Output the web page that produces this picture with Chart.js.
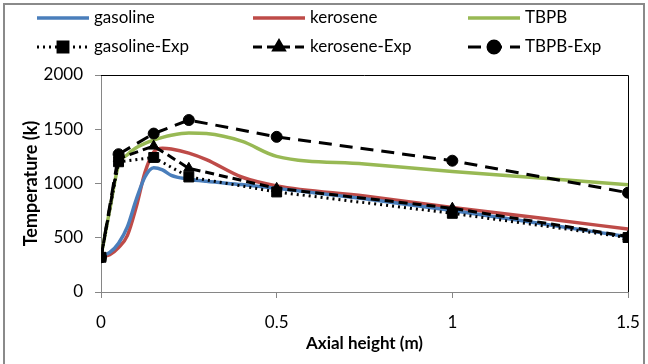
<!DOCTYPE html>
<html>
<head>
<meta charset="utf-8">
<script src="https://cdn.jsdelivr.net/npm/chart.js@4/dist/chart.umd.min.js"></script>
<style>
  html, body { margin: 0; padding: 0; background: #fff; }
  #wrap { position: relative; width: 648px; height: 364px; }
</style>
</head>
<body>
<div id="wrap"><canvas id="c" width="648" height="364"></canvas></div>
<script>
// Simulated axial temperature profiles (K) along the common axial grid (m)
const simHeight = [0, 0.025, 0.05, 0.075, 0.1, 0.125, 0.15, 0.175, 0.2, 0.25, 0.3, 0.4, 0.5, 0.75, 1.0, 1.25, 1.5];
const gasolineSim = [330, 365, 450, 600, 850, 1060, 1145, 1125, 1075, 1040, 1020, 990, 955, 860, 752, 632, 508];
const keroseneSim = [330, 345, 410, 520, 780, 1100, 1290, 1325, 1318, 1280, 1220, 1060, 978, 885, 780, 682, 580];
const tbpbSim     = [330, 760, 1170, 1265, 1330, 1370, 1400, 1425, 1445, 1465, 1460, 1390, 1250, 1180, 1110, 1050, 988];

// Measured temperatures (K) at the thermocouple heights (m)
const expHeight   = [0, 0.05, 0.15, 0.25, 0.5, 1.0, 1.5];
const gasolineExp = [320, 1200, 1240, 1060, 922, 725, 502];
const keroseneExp = [320, 1230, 1345, 1140, 955, 772, 512];
const tbpbExp     = [320, 1270, 1460, 1585, 1430, 1210, 915];

const xTickLabels = ['0', '0.5', '1', '1.5'];
const yTickLabels = ['0', '500', '1000', '1500', '2000'];

const pts = (xs, ys) => xs.map((x, i) => ({ x, y: ys[i] }));

const BLUE = '#4A7EBB', RED = '#BE4B48', GREEN = '#98B954', BLACK = '#000';
const FONT = 'Lato, "Open Sans", sans-serif';

const legendItems = [
  { label: 'gasoline',     color: BLUE,  dash: [],      marker: null },
  { label: 'kerosene',     color: RED,   dash: [],      marker: null },
  { label: 'TBPB',         color: GREEN, dash: [],      marker: null },
  { label: 'gasoline-Exp', color: BLACK, dash: [2, 4],  marker: 'rect' },
  { label: 'kerosene-Exp', color: BLACK, dash: [9, 5],  marker: 'triangle' },
  { label: 'TBPB-Exp',     color: BLACK, dash: [13, 8], marker: 'circle' }
];

const frameAndLegend = {
  id: 'frameAndLegend',
  afterDraw(chart) {
    const ctx = chart.ctx, a = chart.chartArea;
    ctx.save();
    // plot-area border on top and right
    ctx.strokeStyle = '#000';
    ctx.lineWidth = 1;
    ctx.beginPath();
    ctx.moveTo(a.left, a.top + 0.5);
    ctx.lineTo(a.right + 0.5, a.top + 0.5);
    ctx.lineTo(a.right + 0.5, a.bottom);
    ctx.stroke();
    // outer chart frame
    ctx.strokeStyle = '#8a8a8a';
    ctx.lineWidth = 2;
    ctx.strokeRect(4, 4, 640, 372);
    // legend: three columns, two rows
    const colX = [37, 253, 468];
    const rowY = [18, 47];
    ctx.font = '17px ' + FONT;
    ctx.textBaseline = 'middle';
    legendItems.forEach((it, i) => {
      const x0 = colX[i % 3], y = rowY[Math.floor(i / 3)];
      const len = 52;
      ctx.strokeStyle = it.color;
      ctx.lineWidth = it.marker ? 3 : 3.5;
      ctx.setLineDash(it.dash);
      ctx.lineCap = 'butt';
      ctx.beginPath();
      ctx.moveTo(x0, y);
      ctx.lineTo(x0 + len, y);
      ctx.stroke();
      ctx.setLineDash([]);
      if (it.marker) {
        Chart.helpers.drawPoint(ctx, {
          pointStyle: it.marker, radius: it.marker === 'rect' ? 7 : 6, rotation: 0, borderWidth: 1
        }, x0 + len / 2, y);
        ctx.fillStyle = '#000';
        ctx.fill();
      }
      ctx.fillStyle = '#000';
      ctx.fillText(it.label, x0 + len + 5, y);
    });
    ctx.restore();
  }
};

const simStyle = (label, data, color) => ({
  label, data, borderColor: color, backgroundColor: color,
  borderWidth: 3.5, pointRadius: 0, cubicInterpolationMode: 'monotone', order: 2
});
const expStyle = (label, data, dash, marker, r) => ({
  label, data, borderColor: BLACK, backgroundColor: BLACK,
  borderWidth: 3, borderDash: dash, tension: 0,
  pointStyle: marker, pointRadius: r, pointBorderWidth: 1, order: 1
});

new Chart(document.getElementById('c'), {
  type: 'line',
  data: {
    datasets: [
      simStyle('gasoline', pts(simHeight, gasolineSim), BLUE),
      simStyle('kerosene', pts(simHeight, keroseneSim), RED),
      simStyle('TBPB', pts(simHeight, tbpbSim), GREEN),
      expStyle('gasoline-Exp', pts(expHeight, gasolineExp), [2, 4], 'rect', 7),
      expStyle('kerosene-Exp', pts(expHeight, keroseneExp), [9, 5], 'triangle', 6),
      expStyle('TBPB-Exp', pts(expHeight, tbpbExp), [13, 8], 'circle', 5.5)
    ]
  },
  options: {
    responsive: false,
    animation: false,
    devicePixelRatio: 1,
    layout: { padding: { top: 75, right: 20, left: 16, bottom: 0 } },
    plugins: { legend: { display: false }, tooltip: { enabled: false } },
    scales: {
      x: {
        type: 'linear', min: 0, max: 1.5,
        afterFit: s => { s.height = 72; s.paddingLeft = 0; s.paddingRight = 0; },
        afterBuildTicks: s => { s.ticks = xTickLabels.map(v => ({ value: parseFloat(v) })); },
        ticks: {
          callback: (v) => xTickLabels.find(t => parseFloat(t) === v),
          font: { family: FONT, size: 17 }, color: '#000', padding: 14, maxRotation: 0
        },
        grid: { drawOnChartArea: false, tickLength: 6, color: '#868686' },
        border: { color: '#868686', width: 1 },
        title: { display: true, text: 'Axial height (m)', font: { family: FONT, size: 17, weight: 'bold' }, color: '#000', padding: { top: 2, bottom: 10 } }
      },
      y: {
        type: 'linear', min: 0, max: 2000,
        afterFit: s => { s.width = 85; },
        afterBuildTicks: s => { s.ticks = yTickLabels.map(v => ({ value: parseFloat(v) })); },
        ticks: {
          callback: (v) => yTickLabels.find(t => parseFloat(t) === v),
          font: { family: FONT, size: 17 }, color: '#000', padding: 12
        },
        grid: { drawOnChartArea: false, tickLength: 6, color: '#868686' },
        border: { color: '#868686', width: 1 },
        title: { display: true, text: 'Temperature (k)', font: { family: FONT, size: 18, weight: 'bold' }, color: '#000', padding: { bottom: 4 } }
      }
    }
  },
  plugins: [frameAndLegend]
});
</script>
</body>
</html>
